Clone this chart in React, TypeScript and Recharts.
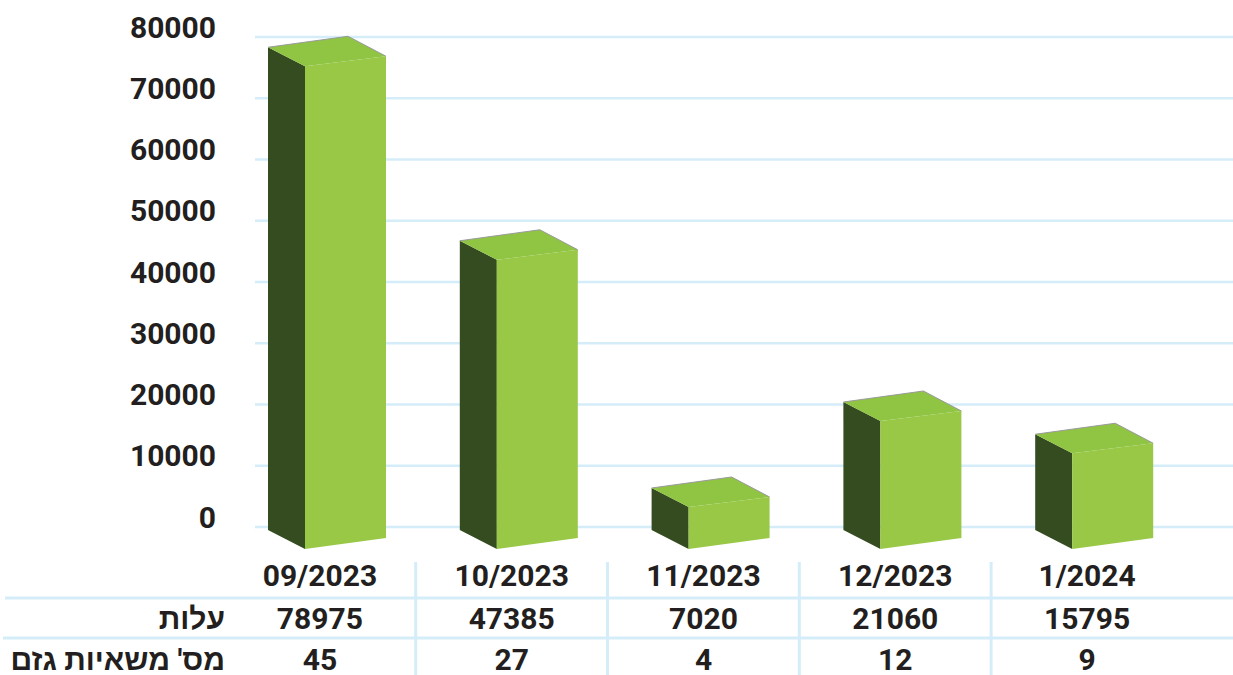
import React from 'react';
import { BarChart, Bar, XAxis, YAxis, CartesianGrid } from 'recharts';

const categories = ['09/2023', '10/2023', '11/2023', '12/2023', '1/2024'];
const costs = [78975, 47385, 7020, 21060, 15795];
const trucks = [45, 27, 4, 12, 9];
const yTicks = [0, 10000, 20000, 30000, 40000, 50000, 60000, 70000, 80000];
const rowLabels = ['עלות', "מס' משאיות גזם"];

const data = categories.map((c, i) => ({ name: c, cost: costs[i], trucks: trucks[i] }));

const FONT = "Roboto, 'Liberation Sans', 'DejaVu Sans', sans-serif";
const TEXT = '#231f20';
const GRID = '#d4edf9';

const Bar3D = (props: any) => {
  const { x, y, width, height } = props;
  const c = x + width / 2;
  const base = y + height;
  const bl = c - 52, fl = c - 15, fr = c + 66, br = c + 28;
  const tBL = y + 4, tBR = y - 7, tFR = y + 13, tFL = y + 23;
  const bFL = base + 22, bFR = base + 11, bBL = base + 3;
  return (
    <g>
      <polygon points={`${bl},${tBL} ${fl},${tFL} ${fl},${bFL} ${bl},${bBL}`} fill="#344c1f" />
      <polygon points={`${fl},${tFL} ${fr},${tFR} ${fr},${bFR} ${fl},${bFL}`} fill="#99c847" />
      <polygon points={`${bl},${tBL} ${br},${tBR} ${fr},${tFR} ${fl},${tFL}`} fill="#8fc543" />
      <polyline points={`${bl},${tBL} ${br},${tBR} ${fr},${tFR}`} fill="none" stroke="#9a9a9a" strokeWidth={1} />
    </g>
  );
};

const YTick = (props: any) => {
  const { x, y, payload } = props;
  return (
    <text x={x} y={y - 10} textAnchor="end" dominantBaseline="central" fontFamily={FONT} fontWeight={700} fontSize={30} fill={TEXT}>
      {payload.value}
    </text>
  );
};

const XTick = (props: any) => {
  const { x, y, payload, index } = props;
  const half = 96;
  const txt = { fontFamily: FONT, fontWeight: 700, fontSize: 30, fill: TEXT } as any;
  return (
    <g>
      {index === 0 && (
        <g>
          <line x1={5} x2={1233} y1={y + 71} y2={y + 71} stroke={GRID} strokeWidth={3} />
          <line x1={3} x2={1233} y1={y + 111} y2={y + 111} stroke={GRID} strokeWidth={3} />
          <text x={225} y={y + 91} textAnchor="end" dominantBaseline="central" {...txt} fontSize={30}>{rowLabels[0]}</text>
          <text x={225} y={y + 132} textAnchor="end" dominantBaseline="central" {...txt} fontSize={30}>{rowLabels[1]}</text>
        </g>
      )}
      {index > 0 && (
        <line x1={x - half} x2={x - half} y1={y + 35} y2={y + 148} stroke={GRID} strokeWidth={3} />
      )}
      <text x={x} y={y + 48} textAnchor="middle" dominantBaseline="central" {...txt}>{payload.value}</text>
      <text x={x} y={y + 91} textAnchor="middle" dominantBaseline="central" {...txt}>{costs[index]}</text>
      <text x={x} y={y + 132} textAnchor="middle" dominantBaseline="central" {...txt}>{trucks[index]}</text>
    </g>
  );
};

const GridLine = (props: any) => {
  const { x1, x2, y1, y2 } = props;
  return <line key={props.key} x1={x1 + 31} x2={x2} y1={y1} y2={y2} stroke={GRID} strokeWidth={2.5} />;
};

export default function App() {
  return (
    <div style={{ position: 'absolute', left: 0, top: 0, width: 1233, height: 675, background: '#fff' }}>
      <BarChart width={1233} height={675} data={data} margin={{ top: 37, right: 0, left: 0, bottom: 0 }}>
        <CartesianGrid vertical={false} horizontal={GridLine as any} />
        <YAxis
          domain={[0, 80000]}
          ticks={yTicks}
          width={224}
          axisLine={false}
          tickLine={false}
          tickSize={0}
          tickMargin={8}
          interval={0}
          tick={<YTick />}
        />
        <XAxis
          dataKey="name"
          height={148}
          axisLine={false}
          tickLine={false}
          tickSize={0}
          tickMargin={0}
          interval={0}
          padding={{ left: 0, right: 50 }}
          tick={<XTick />}
        />
        <Bar dataKey="cost" barSize={120} shape={<Bar3D />} isAnimationActive={false} />
      </BarChart>
    </div>
  );
}
